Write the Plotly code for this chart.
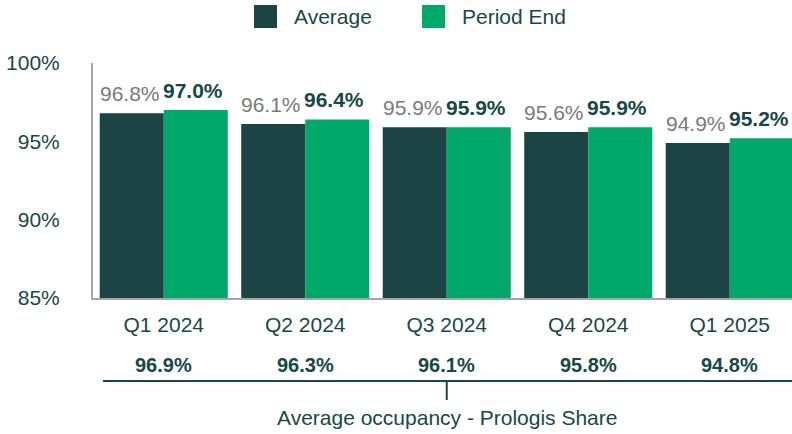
import plotly.graph_objects as go

categories = ["Q1 2024", "Q2 2024", "Q3 2024", "Q4 2024", "Q1 2025"]
average = [96.8, 96.1, 95.9, 95.6, 94.9]
period_end = [97.0, 96.4, 95.9, 95.9, 95.2]
prologis_share = [96.9, 96.3, 96.1, 95.8, 94.8]
y_ticks = [85, 90, 95, 100]
y_tick_labels = ["85%", "90%", "95%", "100%"]

DARK = "#1C4444"
GREEN = "#00A86A"
TEXT = "#174848"
GREY_TXT = "#7A7A7A"
FONT = "Liberation Sans, Arial, sans-serif"

# plot area geometry in page pixels (used for paper-relative placement)
L, W, B, H = 93, 699, 298, 235

xs = list(range(len(categories)))

fig = go.Figure()
fig.add_trace(go.Bar(
    x=xs, y=average, name="Average", marker=dict(color=DARK, line=dict(width=0)),
    showlegend=False, hoverinfo="skip",
))
fig.add_trace(go.Bar(
    x=xs, y=period_end, name="Period End", marker=dict(color=GREEN, line=dict(width=0)),
    showlegend=False, hoverinfo="skip",
))

# Bar value labels
for x, v in zip(xs, average):
    fig.add_annotation(x=x, xref="x", y=v, yref="y", text=f"{v:.1f}%", showarrow=False,
                       xshift=-34, yshift=6, yanchor="bottom", xanchor="center",
                       font=dict(size=21, color=GREY_TXT, family=FONT))
for x, v in zip(xs, period_end):
    fig.add_annotation(x=x, xref="x", y=v, yref="y", text=f"<b>{v:.1f}%</b>", showarrow=False,
                       xshift=29, yshift=6, yanchor="bottom", xanchor="center",
                       font=dict(size=21, color=TEXT, family=FONT))

# Bottom row of values
for x, v in zip(xs, prologis_share):
    fig.add_annotation(x=x, xref="x", y=(B - 365) / H, yref="paper", text=f"<b>{v:.1f}%</b>",
                       showarrow=False, xanchor="center", yanchor="middle",
                       font=dict(size=20, color=TEXT, family=FONT))

fig.add_shape(type="line", xref="paper", yref="paper", x0=(103 - L) / W, x1=1.0,
              y0=(B - 381) / H, y1=(B - 381) / H, line=dict(color=TEXT, width=2))
fig.add_shape(type="line", xref="x", yref="paper", x0=2.0, x1=2.0,
              y0=(B - 381) / H, y1=(B - 400) / H, line=dict(color=TEXT, width=2))
fig.add_annotation(x=2.0, xref="x", y=(B - 418) / H, yref="paper",
                   text="Average occupancy - Prologis Share",
                   showarrow=False, xanchor="center", yanchor="middle",
                   font=dict(size=21, color=TEXT, family=FONT))

# Custom legend
legend_items = [("Average", DARK, 254), ("Period End", GREEN, 422)]
for name, color, px in legend_items:
    fig.add_shape(type="rect", xref="paper", yref="paper",
                  x0=(px - L) / W, x1=(px + 23 - L) / W,
                  y0=(B - 28) / H, y1=(B - 5) / H,
                  fillcolor=color, line=dict(width=0))
    fig.add_annotation(x=(px + 38 - L) / W, xref="paper", y=(B - 17) / H, yref="paper",
                       text=name, showarrow=False, xanchor="left", yanchor="middle",
                       font=dict(size=21, color=TEXT, family=FONT))

fig.update_layout(
    width=792, height=434,
    margin=dict(l=L, r=792 - L - W, t=B - H, b=434 - B, pad=0),
    paper_bgcolor="white", plot_bgcolor="white",
    barmode="group", bargap=0.095, bargroupgap=0,
    font=dict(family=FONT, color=TEXT),
    showlegend=False,
)
fig.update_xaxes(
    tickmode="array", tickvals=xs, ticktext=categories,
    range=[-0.5, 4.44], automargin=False,
    showline=True, linecolor="#A6A6A6", linewidth=2,
    ticks="", showgrid=False, zeroline=False,
    tickfont=dict(size=21, color=TEXT, family=FONT),
    ticklabelstandoff=7,
)
fig.update_yaxes(
    range=[85, 100], tickmode="array", tickvals=y_ticks, ticktext=y_tick_labels,
    automargin=False,
    showline=True, linecolor="#A6A6A6", linewidth=2,
    ticks="", showgrid=False, zeroline=False,
    tickfont=dict(size=21, color=TEXT, family=FONT),
    ticklabelstandoff=27,
)

fig.write_html("out.html", config={"displayModeBar": False},
               post_script="document.body.style.margin='0';")
